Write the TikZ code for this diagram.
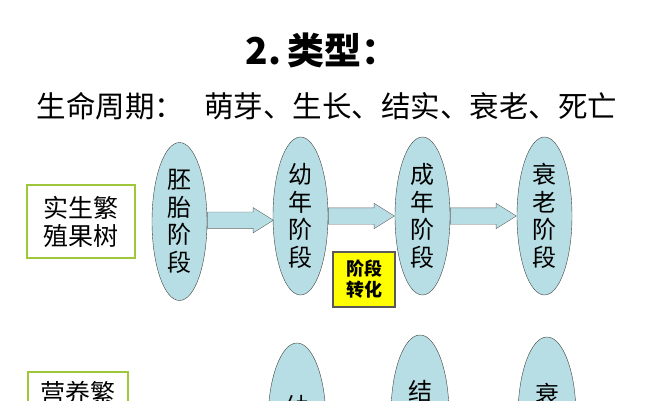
\documentclass[tikz,border=0pt]{standalone}
\usepackage{fontspec}
\setmainfont{Noto Sans CJK SC}
\usepackage{tikz}
\usetikzlibrary{positioning, calc, shapes.geometric, shapes.arrows}

\definecolor{stageblue}{RGB}{183,222,228}
\definecolor{boxgreen}{RGB}{158,200,58}
\definecolor{turnyellow}{RGB}{255,255,0}

\tikzset{
    stage/.style={ellipse, draw=black!75, fill=stageblue, thin,
        minimum width=55pt, minimum height=158pt, inner sep=0pt,
        align=center, font=\fontsize{24}{27.5}\selectfont},
    blockarrow/.style={single arrow, draw=black!60, fill=stageblue, thin,
        minimum height=66pt, inner sep=0pt,
        text width=0pt, text height=8pt, text depth=8pt,
        single arrow head extend=4.5pt, single arrow tip angle=64,
        pos=0, anchor=tail},
    kindbox/.style={rectangle, draw=boxgreen, line width=2.5pt, fill=white,
        minimum width=108pt, minimum height=73pt, inner sep=0pt,
        align=center, font=\fontsize{25}{28}\selectfont},
    turnbox/.style={rectangle, draw=black!65, line width=2pt, fill=turnyellow,
        minimum width=62pt, minimum height=55pt, inner sep=0pt,
        align=center, font=\bfseries\fontsize{18}{21}\selectfont},
    cuttext/.style={anchor=center, inner sep=0pt},
}

\begin{document}
\begin{tikzpicture}[x=1pt, y=-1pt]

    % page frame, everything below 400 is cut off
    \useasboundingbox (0,0) rectangle (667,400);
    \clip (0,0) rectangle (667,400);

    % headings
    \node (title) at (322,50) {\bfseries\fontsize{37}{40}\selectfont 2.\,类型：};
    \node (cycle) at (327,106) {\fontsize{29.5}{32}\selectfont 生命周期：\hspace{20pt}萌芽、生长、结实、衰老、死亡};

    % first row: seedling trees
    \node[kindbox] (seedbox) at (81,221.5) {实生繁\\殖果树};

    \node[stage] (embryo)   at (179.5,221.5) {胚\\胎\\阶\\段};
    \node[stage] (juvenile) at (300.5,216)   {幼\\年\\阶\\段};
    \node[stage] (adult)    at (422.5,216)   {成\\年\\阶\\段};
    \node[stage] (senile)   at (544.5,216)   {衰\\老\\阶\\段};

    % block arrows between the stages
    \path (embryo)   -- node[blockarrow] (arr1) {} (juvenile);
    \path (juvenile) -- node[blockarrow] (arr2) {} (adult);
    \path (adult)    -- node[blockarrow] (arr3) {} (senile);

    % phase change marker
    \node[turnbox] (turn) at (364,279.5) {阶段\\转化};

    % second row: vegetatively propagated trees (cut by the frame)
    \node[kindbox, minimum width=100pt] (vegbox) at (78,408.5) {};
    \node[cuttext, font=\fontsize{25}{28}\selectfont] (vegtext) at ($(vegbox.north)+(0,22.5)$) {营养繁};

    \node[stage, minimum width=58pt] (young2) at (297,422) {};
    \node[stage, minimum width=58pt] (fruit2) at (420,414) {};
    \node[stage, minimum width=58pt] (old2)   at (547,416) {};

    \node[cuttext, font=\fontsize{24}{27.5}\selectfont] (youngtext) at ($(young2.north)+(0,64)$) {幼};
    \node[cuttext, font=\fontsize{24}{27.5}\selectfont] (fruittext) at ($(fruit2.north)+(0,57)$) {结};
    \node[cuttext, font=\fontsize{24}{27.5}\selectfont] (oldtext)   at ($(old2.north)+(0,57)$)   {衰};

\end{tikzpicture}
\end{document}
